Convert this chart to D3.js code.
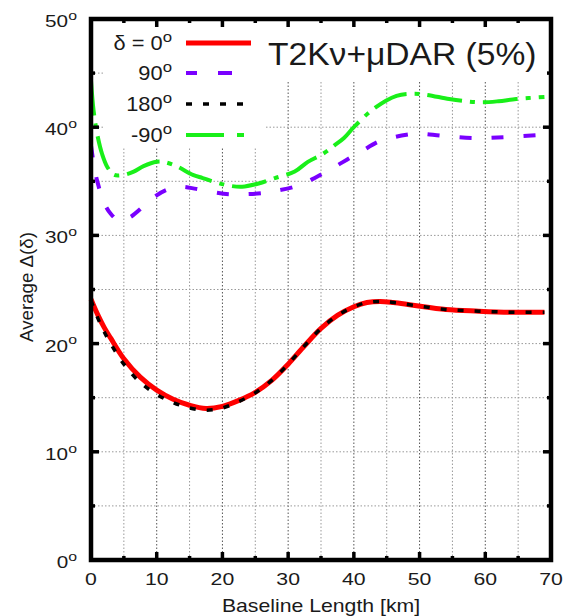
<!DOCTYPE html>
<html><head><meta charset="utf-8">
<script src="https://cdn.jsdelivr.net/npm/d3@7"></script>
<style>body{margin:0;background:#fff}svg{display:block}text{font-family:"Liberation Sans",Arial,sans-serif;fill:#1a1a1a}</style>
</head><body><svg id="c" width="564" height="616"></svg>
<script>
// ---- data ----
const xTicks = [0,10,20,30,40,50,60,70];
const yTicks = [0,10,20,30,40,50];
const legendLabels = ["\u03b4 = 0", "90", "180", "-90"];
const titleText = "T2K\u03bd+\u03bcDAR (5%)";

const x0   = [0,1,2,3,5,7.5,10,12.5,15,17.5,20,22.5,25,27.5,30,32.5,35,37.5,40,42,44,46,49,54,59,64,69];
const d0   = [24.1,22.7,21.5,20.5,18.6,16.9,15.7,14.85,14.3,14.0,14.2,14.75,15.5,16.6,18.1,19.8,21.4,22.6,23.4,23.8,23.9,23.8,23.55,23.15,23.0,22.9,22.9];
const x180 = [0,1,2,3,5,7.5,10,12.5,15,17.5,20,22.5,25,27.5,30,32.5,35,37.5,40,42,44,46,49,54,59,64,69];
const d180 = [24.0,22.4,21.1,20.0,18.1,16.4,15.3,14.55,14.05,13.85,14.05,14.65,15.45,16.6,18.1,19.8,21.4,22.6,23.4,23.8,23.9,23.8,23.55,23.15,23.0,22.9,22.9];
const x90  = [0,0.5,1,2,3,4.4,6,8,9.5,11.5,13.5,16,18.5,21,23,26,28,31,33,35.5,37,39.5,41,43.5,45,48,50,53.5,58.5,63.5,69];
const d90  = [38.3,36.3,34.9,33.0,32.0,31.3,31.7,32.7,33.5,34.2,34.5,34.3,34.0,33.8,33.8,33.9,34.1,34.5,35.0,35.8,36.3,37.2,37.7,38.6,38.9,39.3,39.4,39.2,39.0,39.1,39.3];
const xm90 = [0,0.4,1,1.7,2.5,3.5,5,6.5,8,10,11,13,15.5,17,19,21,23,25.5,28,31,33,35.2,37,38.5,40,43,46.5,49,51,54.5,57,59.5,62,64.7,69];
const dm90 = [44.3,41.5,39.2,37.5,36.3,35.6,35.6,35.9,36.4,36.8,36.8,36.4,35.6,35.3,34.9,34.6,34.5,34.8,35.3,35.9,36.8,37.5,38.3,39.0,40.0,41.7,42.9,43.1,43.0,42.6,42.4,42.3,42.4,42.6,42.8];

// ---- layout ----
const svg = d3.select("#c");
const L=91, R=551, T=19, B=560;
const x = d3.scaleLinear().domain([0,70]).range([L,R]);
const y = d3.scaleLinear().domain([0,50]).range([B,T]);

const styles = [
  {xs:x0, ys:d0, color:"#ff0000", w:5, dash:null, legDash:null},
  {xs:x90, ys:d90, color:"#7a00ff", w:4, dash:"12,20", legDash:"11,21,14,100"},
  {xs:x180, ys:d180, color:"#000", w:3.5, dash:"6,11", legDash:"6,11"},
  {xs:xm90, ys:dm90, color:"#19ef19", w:4, dash:"35,8,5,8", legDash:"38,13,7,100"}
];

// grid
const g = svg.append("g");
d3.range(5,70,5).forEach(v=>{
  g.append("line").attr("x1",x(v)).attr("x2",x(v)).attr("y1",T).attr("y2",B)
   .attr("stroke", v%10===0 ? "#555" : "#999").attr("stroke-width",1).attr("stroke-dasharray","1.5,2");
});
d3.range(5,50,5).forEach(v=>{
  g.append("line").attr("x1",L).attr("x2",R).attr("y1",y(v)).attr("y2",y(v))
   .attr("stroke","#999").attr("stroke-width",1).attr("stroke-dasharray","1.5,2");
});

// curves
const line = d3.line().x(d=>x(d[0])).y(d=>y(d[1])).curve(d3.curveCatmullRom.alpha(0.5));
const order = [0,1,3,2];
order.forEach(i=>{
  const s = styles[i];
  const p = svg.append("path").datum(s.xs.map((v,j)=>[v,s.ys[j]]))
    .attr("d",line).attr("fill","none").attr("stroke",s.color).attr("stroke-width",s.w)
    .attr("stroke-linejoin","round");
  if(s.dash) p.attr("stroke-dasharray",s.dash);
});

// legend & title boxes
svg.append("rect").attr("x",103).attr("y",T+2).attr("width",162).attr("height",127).attr("fill","#fff");
svg.append("rect").attr("x",263).attr("y",T+2).attr("width",R-2-263).attr("height",59).attr("fill","#fff");

function degText(sel, main, size, sup){
  sel.append("tspan").text(main);
  sel.append("tspan").text("o").attr("font-size",sup).attr("dy",-size*0.42);
}

const legY = [43,73,104,135];
styles.forEach((s,i)=>{
  const t = svg.append("text").attr("text-anchor","end").attr("font-size",19.5)
    .attr("transform",`translate(172,${legY[i]+7}) scale(1.12,1)`);
  degText(t, legendLabels[i], 19.5, 15);
  const l = svg.append("line").attr("x1",186).attr("x2",i===1?232:(i===2?244:(i===3?246:251)))
    .attr("y1",legY[i]).attr("y2",legY[i]).attr("stroke",s.color).attr("stroke-width",s.w);
  if(s.legDash) l.attr("stroke-dasharray",s.legDash);
});

svg.append("text").attr("font-size",32).attr("transform","translate(268,65) scale(1.05,1)").text(titleText);

// frame and ticks
const f = svg.append("g").attr("stroke","#000");
d3.range(0,71,5).forEach(v=>{
  const len = v%10===0 ? 8 : 4;
  if(v>0 && v<70){
    f.append("line").attr("x1",x(v)).attr("x2",x(v)).attr("y1",B).attr("y2",B-len).attr("stroke-width",3.5);
    f.append("line").attr("x1",x(v)).attr("x2",x(v)).attr("y1",T).attr("y2",T+len).attr("stroke-width",3.5);
  }
});
d3.range(0,51,5).forEach(v=>{
  const len = v%10===0 ? 8 : 4;
  if(v>0 && v<50){
    f.append("line").attr("y1",y(v)).attr("y2",y(v)).attr("x1",L).attr("x2",L+len).attr("stroke-width",3.5);
    f.append("line").attr("y1",y(v)).attr("y2",y(v)).attr("x1",R).attr("x2",R-len).attr("stroke-width",3.5);
  }
});
svg.append("rect").attr("x",L).attr("y",T).attr("width",R-L).attr("height",B-T)
  .attr("fill","none").attr("stroke","#000").attr("stroke-width",4.5);

// tick labels
xTicks.forEach(v=>{
  svg.append("text").attr("text-anchor","middle").attr("font-size",17)
    .attr("transform",`translate(${x(v)},585) scale(1.25,1)`).text(v);
});
yTicks.forEach(v=>{
  const t = svg.append("text").attr("text-anchor","end").attr("font-size",17)
    .attr("transform",`translate(77,${y(v)+8}) scale(1.22,1)`);
  degText(t, String(v), 17, 13);
});

// axis titles
svg.append("text").attr("text-anchor","middle").attr("font-size",18)
  .attr("transform","translate(321,612) scale(1.18,1)").text("Baseline Length [km]");
svg.append("text").attr("text-anchor","middle").attr("font-size",18)
  .attr("transform","translate(33,287) rotate(-90) scale(1.04,1)").text("Average \u0394(\u03b4)");
</script></body></html>
